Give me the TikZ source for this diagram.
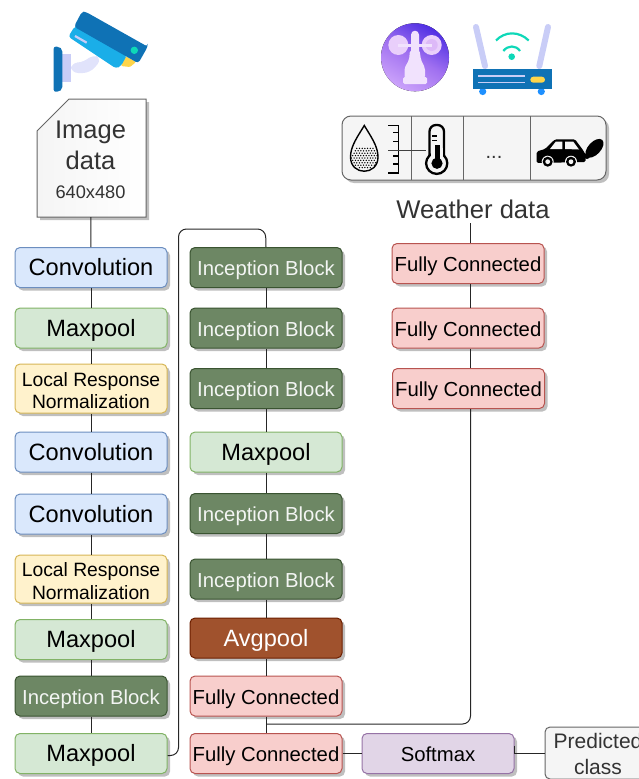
\documentclass[tikz,border=0pt]{standalone}
\usepackage{fontspec}
\setmainfont{Liberation Sans}
\usetikzlibrary{shadows}
\definecolor{bluefill}{HTML}{DAE8FC}
\definecolor{blueline}{HTML}{6C8EBF}
\definecolor{greenfill}{HTML}{D5E8D4}
\definecolor{greenline}{HTML}{82B366}
\definecolor{yellowfill}{HTML}{FFF2CC}
\definecolor{yellowline}{HTML}{D6B656}
\definecolor{redfill}{HTML}{F8CECC}
\definecolor{redline}{HTML}{B85450}
\definecolor{purplefill}{HTML}{E1D5E7}
\definecolor{purpleline}{HTML}{9673A6}
\definecolor{incfill}{HTML}{6D8764}
\definecolor{incline}{HTML}{3A5431}
\definecolor{avgfill}{HTML}{A0522D}
\definecolor{avgline}{HTML}{6D1F00}
\definecolor{panelfill}{HTML}{F5F5F5}
\definecolor{panelline}{HTML}{666666}
\definecolor{inktext}{HTML}{333333}
\definecolor{camdark}{HTML}{0F72B5}
\definecolor{camlight}{HTML}{1AAEE8}
\definecolor{lilac}{HTML}{C9CDF7}
\definecolor{lilacpale}{HTML}{E1E3FB}
\definecolor{teal}{HTML}{0ED8B8}
\definecolor{amber}{HTML}{FFD54A}
\definecolor{legblue}{HTML}{1E90FF}
\definecolor{windlow}{HTML}{4F2FE3}
\definecolor{windmid}{HTML}{A070F0}
\definecolor{windhigh}{HTML}{CBA2FA}
\definecolor{windpale}{HTML}{F1E2FD}
\definecolor{windcup}{HTML}{E9CFFB}
\definecolor{windinner}{HTML}{DDB9F8}
\tikzset{
  layer/.style={draw, rounded corners=5pt, line width=1pt, minimum width=152pt,
    minimum height=40pt, inner sep=0pt,
    drop shadow={shadow xshift=3pt, shadow yshift=-3pt, opacity=.25, fill=black}},
  bigtext/.style={font=\fontsize{23.6}{28}\selectfont, text height=21pt, text depth=5pt},
  smalltext/.style={font=\fontsize{20.3}{24}\selectfont, text height=20pt, text depth=3.3pt},
  conv/.style={layer, bigtext, fill=bluefill, draw=blueline},
  maxpool/.style={layer, bigtext, fill=greenfill, draw=greenline},
  lrn/.style={layer, fill=yellowfill, draw=yellowline, align=center, text height=40.5pt,
    font=\fontsize{19.3}{22.5}\selectfont},
  inception/.style={layer, smalltext, fill=incfill, draw=incline, text=white!92!incfill},
  avgpool/.style={layer, bigtext, fill=avgfill, draw=avgline, text=white},
  fc/.style={layer, smalltext, fill=redfill, draw=redline},
  softmax/.style={layer, smalltext, fill=purplefill, draw=purpleline},
  wire/.style={line width=1pt, black!85}
}
\begin{document}
\begin{tikzpicture}[x=1pt,y=-1pt]
  \useasboundingbox (0,0) rectangle (638,779);
  % camera
  \fill[lilacpale, rounded corners=7pt] (71,62.5) -- (84,62.5) -- (93,54) -- (102,59) -- (90,73) -- (71,73) -- cycle;
  \fill[lilac] (62,54) rectangle (71,81.5);
  \fill[camdark, rounded corners=2pt] (53.7,46.7) -- (59,46.7) -- (62.3,49.5) -- (62.3,89) -- (59,91.7) -- (53.7,91.7) -- cycle;
  \fill[amber, rounded corners=1pt] (125,56) -- (121,66) -- (130,67) -- (136,62) -- cycle;
  \fill[camlight, rounded corners=3pt] (75,26) -- (68.3,36.7) -- (116,68.5) -- (121,66) -- (127,55) -- cycle;
  \fill[camdark, rounded corners=3pt] (74,26.7) -- (82,11.5) -- (86,12) -- (147.7,46.7) -- (147.7,46.7) -- (138.3,63.3) -- cycle;
  \draw[lilac, line width=2.2pt] (75,36) -- (86.7,42.7);
  \fill[teal] (134.3,50.3) circle (3.7pt);
  % anemometer
  \fill[left color=windlow, right color=windhigh, middle color=windmid,
    shading angle=-30] (415,57.3) circle (34pt);
  \fill[windcup] (398.3,45) circle (10pt) (431.7,45) circle (10pt);
  \fill[windinner] (431.7,45) circle (6pt);
  \fill[windpale] (398,43.5) rectangle (432,46.5);
  \fill[windpale, rounded corners=4pt] (411,60) rectangle (419,30.7);
  \fill[windpale, rounded corners=2pt] (410,50) -- (419.5,50) -- (421,60) -- (425,68) -- (425,78) -- (404.5,78) -- (404.5,68) -- (409,60) -- cycle;
  \fill[windpale, rounded corners=1.5pt] (403,77) rectangle (427,84);
  % router
  \draw[lilac, line width=6pt, line cap=round] (476,27) -- (485,66);
  \draw[lilac, line width=6pt, line cap=round] (548,27) -- (539.3,66);
  \fill[legblue] (482.7,91.5) circle (3.6pt) (541.3,91.5) circle (3.6pt);
  \fill[camdark] (473,69) rectangle (552,89);
  \draw[lilac, line width=1.6pt] (478,76) -- (525,76) (478,82.3) -- (525,82.3);
  \fill[amber, rounded corners=3pt] (530.3,76.7) rectangle (545,82.7);
  \fill[teal] (511.7,56.7) circle (3.3pt);
  \draw[teal, line width=2.2pt] (496,40.5) .. controls (505,31) and (519,31) .. (528.7,40.5);
  \draw[teal, line width=2.2pt] (503.3,51) .. controls (508,45) and (516,45) .. (520,51);
  % sensor panel
  \node[draw=panelline, fill=panelfill, line width=1pt, rounded corners=9pt, minimum width=264pt,
    minimum height=64pt, inner sep=0pt,
    drop shadow={shadow xshift=3pt, shadow yshift=-3pt, opacity=.25, fill=black}] (sensors) at (474,148) {};
  \draw[panelline, line width=1pt] (411,116) -- (411,180) (463,116) -- (463,180) (530,116) -- (530,180);
  % drop and scale
  \begin{scope}
    \clip (345,147) rectangle (385,175);
    \foreach \i in {0,...,11} \foreach \j in {0,...,11} {
      \pgfmathsetmacro{\dx}{350+2.7*\i+1.35*mod(\j,2)}
      \pgfmathsetmacro{\dy}{146+2.4*\j}
      \pgfmathsetmacro{\dr}{sqrt((\dx-364.3)^2+(\dy-157)^2)}
      \ifdim\dr pt<13pt \fill[black] (\dx,\dy) circle (.75pt);\fi
    }
  \end{scope}
  \draw[black, line width=1.4pt] (364.3,125.5) .. controls (358,136) and (350.5,146) .. (350.5,157)
    .. controls (350.5,176) and (378,176) .. (378,157) .. controls (378,146) and (370.5,136) .. (364.3,125.5) -- cycle;
  \draw[black, line width=1.5pt] (388.3,125.5) -- (398.3,125.5) -- (398.3,173) -- (388.3,173);
  \draw[black, line width=1.5pt] (393.3,132.7) -- (398.3,132.7) (393.3,141.7) -- (398.3,141.7)
    (393.3,156) -- (398.3,156) (393.3,164) -- (398.3,164);
  \draw[black!75, line width=1pt] (388,150) -- (426,150);
  % thermometer
  \draw[black, line width=2.3pt, rounded corners=6.5pt] (429.5,158) -- (429.5,125) -- (444,125) -- (444,158);
  \draw[black, line width=2.3pt, fill=panelfill] (436.7,163.3) circle (10.6pt);
  \fill[panelfill] (430.7,148) rectangle (442.8,158);
  \draw[black, line width=1.4pt] (432,136) -- (437,136) (432,140.5) -- (437,140.5);
  \fill[black] (434.8,145) rectangle (440,160);
  \fill[black] (437,163.3) circle (5.6pt);
  % car
  \fill[black, rounded corners=1.5pt] (536.7,151.5) -- (545,149) -- (555,139.3) -- (575,139.3) -- (583.3,150.5)
    -- (585.7,155) -- (585.7,162) -- (536.7,163) -- cycle;
  \fill[panelfill] (550,149) -- (555.7,141.7) -- (562.3,141.7) -- (562.3,149) -- cycle;
  \fill[panelfill] (565,141.7) -- (573.3,141.7) -- (579,149.5) -- (565,149) -- cycle;
  \fill[panelfill] (547.7,161.7) circle (6pt) (571,161.7) circle (6pt);
  \fill[black] (547.7,161.7) circle (5pt) (571,161.7) circle (5pt);
  \fill[panelfill] (547.7,161.7) circle (2.4pt) (571,161.7) circle (2.4pt);
  \fill[black, shift={(594.5,148.3)}, rotate=47] (0,0) ellipse (11.4pt and 6.3pt);
  \fill[black] (587,156) circle (3pt);
  % input boxes
  \fill[black, opacity=.25] (40,134) -- (72,102) -- (149,102) -- (149,220) -- (40,220) -- cycle;
  \draw[panelline, line width=1pt, left color=panelfill, right color=white] (37,131) -- (69,99) -- (146,99) -- (146,217) -- (37,217) -- cycle;
  \node[text=inktext, minimum width=109pt, minimum height=114pt, inner sep=0pt, align=center,
    font=\fontsize{25.5}{30.5}\selectfont] (img) at (90.5,160)
    {Image\\data\\[-1pt]{\fontsize{18.2}{22}\selectfont 640x480}};
  \node[text=inktext, font=\fontsize{25.6}{30}\selectfont, minimum height=28pt, inner sep=0pt] (wdata) at (473,209) {Weather data};
  % left column
  \node[conv] (conv1) at (91,267.5) {Convolution};
  \node[maxpool] (pool1) at (91,328) {Maxpool};
  \node[lrn, minimum height=49pt] (lrn1) at (91,388.5) {Local Response\\Normalization};
  \node[conv] (conv2) at (91,452) {Convolution};
  \node[conv] (conv3) at (91,514) {Convolution};
  \node[lrn, minimum height=48pt] (lrn2) at (91,579) {Local Response\\Normalization};
  \node[maxpool] (pool2) at (91,639.5) {Maxpool};
  \node[inception] (inc1) at (91,696) {Inception Block};
  \node[maxpool] (pool3) at (91,753.5) {Maxpool};
  % middle column
  \node[inception] (inc2) at (266,267.5) {Inception Block};
  \node[inception] (inc3) at (266,328) {Inception Block};
  \node[inception] (inc4) at (266,388.5) {Inception Block};
  \node[maxpool] (pool4) at (266,452) {Maxpool};
  \node[inception] (inc5) at (266,513.5) {Inception Block};
  \node[inception] (inc6) at (266,579) {Inception Block};
  \node[avgpool] (avg) at (266,638) {Avgpool};
  \node[fc] (fc1) at (266,696) {Fully Connected};
  \node[fc] (fc2) at (266,753.5) {Fully Connected};
  % right column
  \node[fc] (wfc1) at (468,263.5) {Fully Connected};
  \node[fc] (wfc2) at (468,328) {Fully Connected};
  \node[fc] (wfc3) at (468.5,388.5) {Fully Connected};
  \node[softmax] (soft) at (438,753.5) {Softmax};
  \node[layer, minimum width=106pt, minimum height=52pt, fill=panelfill, draw=panelline, text=inktext,
    align=center, text height=44pt, font=\fontsize{21}{26}\selectfont] (pred) at (598,753) {Predicted\\class};
  \begin{scope}[wire]
    \draw (img) -- (conv1);
    \draw (conv1) -- (pool1);
    \draw (pool1) -- (lrn1);
    \draw (lrn1) -- (conv2);
    \draw (conv2) -- (conv3);
    \draw (conv3) -- (lrn2);
    \draw (lrn2) -- (pool2);
    \draw (pool2) -- (inc1);
    \draw (inc1) -- (pool3);
    \draw (inc2) -- (inc3);
    \draw (inc3) -- (inc4);
    \draw (inc4) -- (pool4);
    \draw (pool4) -- (inc5);
    \draw (inc5) -- (inc6);
    \draw (inc6) -- (avg);
    \draw (avg) -- (fc1);
    \draw (fc1) -- (fc2);
    \draw (fc2) -- (soft);
    \draw ([yshift=8pt]soft.east) |- (pred.west);
    \draw[rounded corners=8pt] ([yshift=-2pt]pool3.east) -- (178.5,755.5) -- (178.5,229) -- (265.5,229) -- (inc2.north);
    \draw ([xshift=-2.5pt]wdata.south) -- ([xshift=2.5pt]wfc1.north);
    \draw ([xshift=2.5pt]wfc1.south) -- ([xshift=2.5pt]wfc2.north);
    \draw ([xshift=2.5pt]wfc2.south) -- ([xshift=2pt]wfc3.north);
    \draw[rounded corners=8pt] ([xshift=2pt]wfc3.south) -- (470.5,724) -- (266,724);
  \end{scope}
  \node at (494,157) [text=inktext, font=\fontsize{20}{24}\selectfont, inner sep=0pt] (dots) {...};
\end{tikzpicture}
\end{document}
